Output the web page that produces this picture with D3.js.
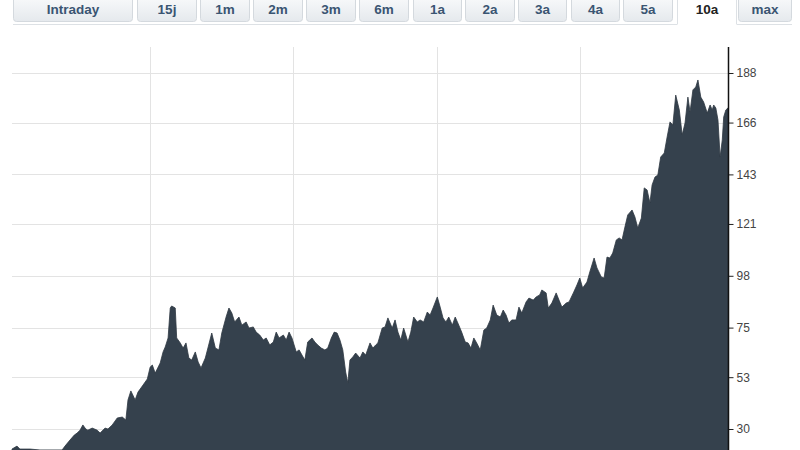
<!DOCTYPE html>
<html>
<head>
<meta charset="utf-8">
<script src="https://cdn.jsdelivr.net/npm/d3@7/dist/d3.min.js"></script>
<style>
    body { margin: 0; background: #fff; font-family: "Liberation Sans", Arial, sans-serif; }
</style>
</head>
<body>
<div id="chart"></div>
<script>
var periods = ["Intraday", "15j", "1m", "2m", "3m", "6m", "1a", "2a", "3a", "4a", "5a", "10a", "max"],
    activePeriod = "10a";

// decimal years
var dates = [
    2005.07, 2005.14, 2005.18, 2005.32, 2005.46, 2005.77, 2005.81, 2005.88, 2005.94, 2005.98,
    2006.02, 2006.06, 2006.10, 2006.13, 2006.19, 2006.26, 2006.30, 2006.37, 2006.41, 2006.47,
    2006.54, 2006.61, 2006.66, 2006.69, 2006.73, 2006.79, 2006.83, 2006.90, 2006.96, 2007.00,
    2007.03, 2007.07, 2007.14, 2007.18, 2007.21, 2007.25, 2007.28, 2007.30, 2007.35, 2007.37,
    2007.42, 2007.46, 2007.50, 2007.54, 2007.58, 2007.63, 2007.67, 2007.71, 2007.77, 2007.81,
    2007.86, 2007.91, 2007.96, 2008.00, 2008.06, 2008.10, 2008.14, 2008.18, 2008.24, 2008.28,
    2008.34, 2008.38, 2008.44, 2008.48, 2008.53, 2008.58, 2008.62, 2008.67, 2008.72, 2008.76,
    2008.80, 2008.86, 2008.90, 2008.94, 2008.98, 2009.04, 2009.08, 2009.12, 2009.16, 2009.20,
    2009.26, 2009.30, 2009.34, 2009.39, 2009.44, 2009.48, 2009.53, 2009.57, 2009.61, 2009.65,
    2009.69, 2009.73, 2009.76, 2009.79, 2009.83, 2009.87, 2009.93, 2009.97, 2010.01, 2010.07,
    2010.11, 2010.15, 2010.18, 2010.24, 2010.28, 2010.32, 2010.38, 2010.42, 2010.46, 2010.50,
    2010.54, 2010.60, 2010.64, 2010.68, 2010.73, 2010.77, 2010.82, 2010.87, 2010.91, 2010.95,
    2011.01, 2011.05, 2011.09, 2011.13, 2011.17, 2011.22, 2011.26, 2011.31, 2011.35, 2011.40,
    2011.44, 2011.48, 2011.52, 2011.56, 2011.61, 2011.66, 2011.70, 2011.75, 2011.79, 2011.84,
    2011.89, 2011.93, 2011.97, 2012.01, 2012.05, 2012.11, 2012.15, 2012.19, 2012.25, 2012.29,
    2012.35, 2012.39, 2012.44, 2012.47, 2012.53, 2012.56, 2012.61, 2012.67, 2012.71, 2012.75,
    2012.81, 2012.85, 2012.91, 2012.96, 2013.00, 2013.04, 2013.10, 2013.14, 2013.20, 2013.24,
    2013.30, 2013.34, 2013.38, 2013.42, 2013.46, 2013.51, 2013.55, 2013.59, 2013.63, 2013.67,
    2013.73, 2013.77, 2013.81, 2013.86, 2013.90, 2013.94, 2013.98, 2014.01, 2014.05, 2014.09,
    2014.13, 2014.18, 2014.22, 2014.26, 2014.30, 2014.34, 2014.39, 2014.43, 2014.47, 2014.51,
    2014.54, 2014.58, 2014.62, 2014.65, 2014.69, 2014.73, 2014.78, 2014.82, 2014.85, 2014.87,
    2014.90, 2014.93, 2014.96, 2014.99, 2015.01, 2015.04, 2015.07
];

var prices = [
    21.1, 22.4, 21.1, 21.1, 20.7, 20.7, 22.4, 25.1, 27.3, 28.2,
    29.5, 31.8, 30.0, 29.5, 30.4, 29.5, 28.2, 30.4, 30.0, 31.8,
    34.9, 35.3, 34.0, 42.9, 46.9, 42.9, 46.4, 49.5, 52.2, 57.5,
    58.4, 54.8, 59.3, 64.2, 66.4, 70.4, 83.7, 84.6, 83.7, 70.4,
    68.2, 65.9, 68.2, 61.5, 60.6, 64.2, 59.7, 57.1, 61.5, 66.4,
    72.6, 65.9, 65.1, 72.6, 79.7, 83.7, 81.5, 77.5, 79.7, 76.1,
    77.5, 74.8, 75.3, 73.0, 71.7, 69.5, 70.4, 67.3, 68.6, 73.0,
    70.4, 71.7, 69.5, 73.0, 70.4, 64.2, 65.1, 62.8, 60.6, 68.6,
    70.4, 68.6, 67.3, 65.9, 65.1, 65.9, 70.4, 73.0, 72.6, 69.5,
    65.1, 55.3, 50.4, 60.6, 62.0, 63.7, 61.5, 64.2, 62.8, 68.2,
    65.9, 67.3, 68.2, 74.8, 75.3, 79.3, 74.8, 78.4, 73.0, 69.5,
    74.8, 68.6, 73.0, 79.7, 77.5, 78.4, 77.5, 81.9, 80.6, 83.7,
    88.6, 84.1, 79.3, 77.5, 79.7, 76.1, 79.7, 76.1, 73.0, 68.6,
    68.2, 65.9, 70.4, 68.2, 65.1, 73.9, 74.8, 78.4, 85.0, 80.6,
    79.7, 82.8, 80.6, 77.0, 78.4, 78.4, 84.1, 81.5, 86.4, 88.1,
    87.2, 88.6, 89.5, 91.7, 90.4, 83.7, 85.9, 90.4, 87.2, 84.1,
    85.9, 86.4, 90.4, 93.9, 97.0, 92.6, 95.2, 99.7, 105.9, 101.5,
    97.5, 97.0, 106.3, 105.9, 108.1, 113.9, 114.8, 113.9, 119.6, 125.0,
    127.2, 124.1, 119.2, 123.6, 137.0, 136.1, 130.3, 138.3, 141.8, 142.7,
    150.7, 152.5, 159.6, 166.3, 164.9, 178.2, 171.6, 160.5, 165.8, 177.3,
    170.7, 180.5, 181.8, 184.9, 177.3, 175.1, 170.2, 173.8, 171.6, 173.8,
    172.5, 167.1, 150.7, 158.3, 168.5, 171.6, 172.5
];

var yTickValues = [30, 53, 75, 98, 121, 143, 166, 188],
    gridYears = [2007, 2009, 2011, 2013];

(function () {
    var width = 800,
        height = 450,
        left = 12,
        right = 728,
        top = 47,
        bottom = 450;

    var svg = d3.select("#chart").append("svg")
        .attr("width", width)
        .attr("height", height);

    // ---- period tabs
    var tabLeft = [13, 137, 200, 253, 306, 359, 413, 465, 518, 571, 623, 677, 738],
        tabWidth = [120, 60, 50, 50, 50, 50, 49, 50, 49, 49, 50, 60, 54];

    var grad = svg.append("defs").append("linearGradient")
        .attr("id", "btn").attr("x1", 0).attr("y1", 0).attr("x2", 0).attr("y2", 1);
    grad.append("stop").attr("offset", "0%").attr("stop-color", "#fafbfc");
    grad.append("stop").attr("offset", "100%").attr("stop-color", "#e5e9ed");

    svg.append("line")
        .attr("x1", 13).attr("x2", 677).attr("y1", 24.5).attr("y2", 24.5)
        .attr("stroke", "#dde1e5");
    svg.append("line")
        .attr("x1", 737).attr("x2", 792).attr("y1", 24.5).attr("y2", 24.5)
        .attr("stroke", "#dde1e5");

    var tabs = svg.append("g").selectAll("g")
        .data(periods)
        .enter().append("g")
        .attr("transform", function (d, i) { return "translate(" + tabLeft[i] + ",0)"; });

    tabs.filter(function (d) { return d !== activePeriod; })
        .append("rect")
        .attr("x", 0.5).attr("y", -5.5)
        .attr("width", function (d) { return tabWidth[periods.indexOf(d)] - 1; })
        .attr("height", 27)
        .attr("rx", 3)
        .attr("fill", "url(#btn)")
        .attr("stroke", "#d4d9de");

    tabs.filter(function (d) { return d === activePeriod; })
        .each(function (d) {
            var w = tabWidth[periods.indexOf(d)];
            d3.select(this).append("path")
                .attr("d", "M0.5,0V24.5M" + (w - 0.5) + ",0V24.5")
                .attr("stroke", "#dde1e5")
                .attr("fill", "none");
        });

    tabs.append("text")
        .attr("x", function (d) { return tabWidth[periods.indexOf(d)] / 2; })
        .attr("y", 14)
        .attr("text-anchor", "middle")
        .attr("font-size", 13.5)
        .attr("font-weight", "bold")
        .attr("fill", function (d) { return d === activePeriod ? "#222" : "#3a5572"; })
        .text(function (d) { return d; });

    // ---- scales
    var x = d3.scaleLinear().domain(d3.extent(dates)).range([left, right]),
        y = d3.scaleLinear().domain([30, 188]).range([429, 73]);

    var points = dates.map(function (d, i) { return [d, prices[i]]; });

    // grid
    var grid = svg.append("g").attr("stroke", "#e3e3e3").attr("stroke-width", 1);
    grid.selectAll("line.h")
        .data(yTickValues)
        .enter().append("line")
        .attr("x1", left).attr("x2", right)
        .attr("y1", function (d) { return Math.round(y(d)) + 0.5; })
        .attr("y2", function (d) { return Math.round(y(d)) + 0.5; });
    grid.selectAll("line.v")
        .data(gridYears)
        .enter().append("line")
        .attr("x1", function (d) { return Math.round(x(d)) + 0.5; })
        .attr("x2", function (d) { return Math.round(x(d)) + 0.5; })
        .attr("y1", top).attr("y2", bottom);

    // area
    var area = d3.area()
        .x(function (d) { return x(d[0]); })
        .y0(bottom + 2)
        .y1(function (d) { return y(d[1]); });

    svg.append("path")
        .datum(points)
        .attr("d", area)
        .attr("fill", "#35414d")
        .attr("stroke", "#2e3843")
        .attr("stroke-width", 0.8)
        .attr("stroke-linejoin", "miter");

    // right axis
    var axis = d3.axisRight(y)
        .tickValues(yTickValues)
        .tickSize(5)
        .tickSizeOuter(0)
        .tickPadding(3);

    var ag = svg.append("g")
        .attr("transform", "translate(" + (right + 0.5) + ",0)")
        .call(axis);
    ag.select(".domain").remove();
    ag.append("line")
        .attr("y1", top).attr("y2", bottom)
        .attr("stroke", "#111").attr("stroke-width", 1.5);
    ag.selectAll(".tick line").attr("stroke", "#222");
    ag.selectAll(".tick text")
        .attr("font-family", "'Liberation Sans', Arial, sans-serif")
        .attr("font-size", 12)
        .attr("fill", "#444");
})();
</script>
</body>
</html>
